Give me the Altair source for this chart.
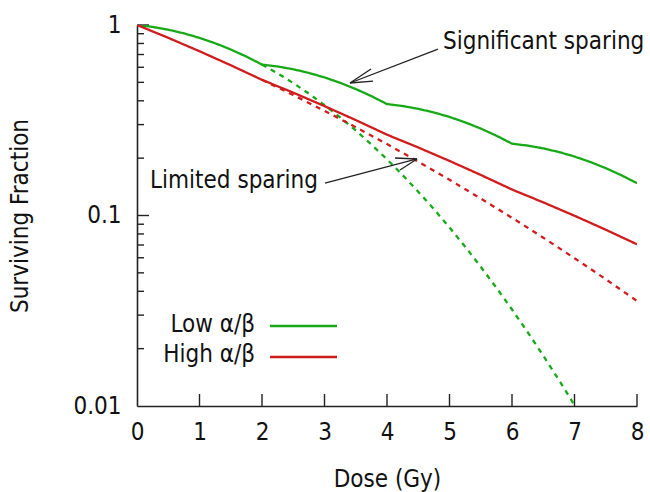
import altair as alt
import pandas as pd

# Dose grid (Gy)
dose_quarter = [i * 0.25 for i in range(33)]          # 0 .. 8
dose_half = [i * 0.5 for i in range(17)]              # 0 .. 8

# Low alpha/beta tissue: 2 Gy fractions and a single acute dose
low_fractionated = [1.0, 0.9770, 0.9447, 0.9040, 0.8560, 0.8021, 0.7439, 0.6827, 0.6200,
                    0.6057, 0.5857, 0.5605, 0.5307, 0.4973, 0.4612, 0.4233, 0.3844,
                    0.3756, 0.3631, 0.3475, 0.3291, 0.3083, 0.2860, 0.2624, 0.2383,
                    0.2328, 0.2251, 0.2154, 0.2040, 0.1911, 0.1773, 0.1627, 0.1478]
low_single_dose = [2.0 + i * 0.25 for i in range(22)]  # 2 .. 7.25
low_single = [0.6200, 0.5573, 0.4957, 0.4363, 0.3800, 0.3276, 0.2795, 0.2359, 0.1971,
              0.1630, 0.1333, 0.1080, 0.0865, 0.0686, 0.0538, 0.0418, 0.0321,
              0.02443, 0.01839, 0.01370, 0.01010, 0.00737]

# High alpha/beta tissue
high_fractionated = [1.0, 0.8564, 0.7282, 0.6148, 0.5154, 0.4414, 0.3753, 0.3169, 0.2656,
                     0.2275, 0.1934, 0.1633, 0.1369, 0.1172, 0.0997, 0.0842, 0.0706]
high_single_dose = [2.0 + i * 0.5 for i in range(13)]  # 2 .. 8
high_single = [0.5154, 0.4289, 0.3545, 0.2909, 0.2370, 0.1917, 0.1540, 0.1228,
               0.0973, 0.0765, 0.0597, 0.0463, 0.0356]

series_names = ["low_single", "high_single", "low_frac", "high_frac"]
series_colors = ["#17a917", "#d01c1c", "#17a917", "#d01c1c"]

FONT = "DejaVu Sans Condensed, Liberation Sans, sans-serif"
FS = 24
AXIS_COLOR = "#222222"
W, H = 500, 381

rows = []
for d, s in zip(low_single_dose, low_single):
    rows.append({"dose": d, "sf": s, "series": "low_single", "style": "dashed"})
for d, s in zip(high_single_dose, high_single):
    rows.append({"dose": d, "sf": s, "series": "high_single", "style": "dashed"})
for d, s in zip(dose_quarter, low_fractionated):
    rows.append({"dose": d, "sf": s, "series": "low_frac", "style": "solid"})
for d, s in zip(dose_half, high_fractionated):
    rows.append({"dose": d, "sf": s, "series": "high_frac", "style": "solid"})
curves = pd.DataFrame(rows)

x_scale = alt.Scale(domain=[0, 8], nice=False, zero=False)
y_scale = alt.Scale(type="log", domain=[0.01, 1], nice=False)

lines = alt.Chart(curves).mark_line(strokeWidth=2.3, clip=True).encode(
    x=alt.X("dose:Q", scale=x_scale,
            axis=alt.Axis(values=list(range(9)), format="d", ticks=False, grid=False,
                          domainColor=AXIS_COLOR, domainWidth=1.6,
                          labelFont=FONT, labelFontSize=FS, labelColor="#111111",
                          labelPadding=14, labelFlush=False,
                          title="Dose (Gy)", titleFont=FONT, titleFontSize=FS,
                          titleFontWeight="normal", titleColor="#111111",
                          titleBaseline="alphabetic", titleY=80)),
    y=alt.Y("sf:Q", scale=y_scale,
            axis=alt.Axis(values=[0.01, 0.1, 1], ticks=False, grid=False,
                          labelExpr="format(datum.value, '~g')",
                          domainColor=AXIS_COLOR, domainWidth=1.6,
                          labelFont=FONT, labelFontSize=FS, labelColor="#111111",
                          labelPadding=16, labelFlush=False,
                          title="Surviving Fraction", titleFont=FONT, titleFontSize=FS,
                          titleFontWeight="normal", titleColor="#111111",
                          titleAngle=270, titleBaseline="alphabetic",
                          titleX=-110, titleY=H / 2, titleAlign="center")),
    color=alt.Color("series:N", scale=alt.Scale(domain=series_names, range=series_colors),
                    legend=None),
    strokeDash=alt.StrokeDash("style:N",
                              scale=alt.Scale(domain=["solid", "dashed"], range=[[1, 0], [5, 5]]),
                              legend=None),
    detail="series:N",
)

# Inward tick marks
major_y = [0.1, 1.0]
minor_y = [0.02, 0.03, 0.04, 0.05, 0.06, 0.07, 0.08, 0.09,
           0.2, 0.3, 0.4, 0.5, 0.6, 0.7, 0.8, 0.9]
major_x = [1, 2, 3, 4, 5, 6, 7, 8]

y_major_ticks = alt.Chart(pd.DataFrame({"sf": major_y})).mark_rule(
    color=AXIS_COLOR, strokeWidth=1.4).encode(
    y=alt.Y("sf:Q", scale=y_scale), x=alt.value(0), x2=alt.value(12))
y_minor_ticks = alt.Chart(pd.DataFrame({"sf": minor_y})).mark_rule(
    color=AXIS_COLOR, strokeWidth=1.4).encode(
    y=alt.Y("sf:Q", scale=y_scale), x=alt.value(0), x2=alt.value(7))
x_major_ticks = alt.Chart(pd.DataFrame({"dose": major_x})).mark_rule(
    color=AXIS_COLOR, strokeWidth=1.4).encode(
    x=alt.X("dose:Q", scale=x_scale), y=alt.value(H), y2=alt.value(H - 12))

# Annotation arrows (shaft + two head strokes), in data units
arrow_segments = pd.DataFrame({
    "dose":  [4.816, 3.408, 3.408, 3.008, 4.480, 4.480],
    "sf":    [0.748, 0.496, 0.496, 0.148, 0.198, 0.198],
    "dose2": [3.408, 3.744, 3.776, 4.480, 4.128, 4.208],
    "sf2":   [0.496, 0.5875, 0.508, 0.198, 0.2004, 0.1733],
})
arrows = alt.Chart(arrow_segments).mark_rule(color="#222222", strokeWidth=1.3).encode(
    x=alt.X("dose:Q", scale=x_scale), y=alt.Y("sf:Q", scale=y_scale),
    x2="dose2:Q", y2="sf2:Q")

labels = pd.DataFrame({
    "dose": [4.896, 0.208],
    "sf": [0.748, 0.1394],
    "label": ["Significant sparing", "Limited sparing"],
})
label_text = alt.Chart(labels).mark_text(
    align="left", baseline="alphabetic", font=FONT, fontSize=FS, color="#111111").encode(
    x=alt.X("dose:Q", scale=x_scale), y=alt.Y("sf:Q", scale=y_scale), text="label:N")

# Key
key_names = ["Low α/β", "High α/β"]
key_text_sf = [0.02446, 0.01702]
key_line_sf = [0.0263, 0.01808]
key_colors = ["#17a917", "#d01c1c"]
key = pd.DataFrame({
    "name": key_names, "sf_text": key_text_sf, "sf": key_line_sf,
    "dose": [1.888, 1.888], "x1": [2.128, 2.128], "x2": [3.2, 3.2],
})
key_text = alt.Chart(key).mark_text(
    align="right", baseline="alphabetic", font=FONT, fontSize=FS, color="#111111").encode(
    x=alt.X("dose:Q", scale=x_scale), y=alt.Y("sf_text:Q", scale=y_scale), text="name:N")
key_lines = alt.Chart(key).mark_rule(strokeWidth=2.3).encode(
    x=alt.X("x1:Q", scale=x_scale), x2="x2:Q",
    y=alt.Y("sf:Q", scale=y_scale),
    color=alt.Color("name:N", scale=alt.Scale(domain=key_names, range=key_colors), legend=None))

chart = alt.layer(
    y_minor_ticks, y_major_ticks, x_major_ticks, lines, arrows, label_text, key_text, key_lines
).resolve_scale(color="independent").properties(
    width=W, height=H,
    autosize=alt.AutoSizeParams(type="none"),
    padding={"left": 137, "top": 25, "right": 13, "bottom": 86},
    background="white",
).configure_view(stroke=None)

chart.save("out.html", embed_options={"renderer": "svg", "actions": False})
